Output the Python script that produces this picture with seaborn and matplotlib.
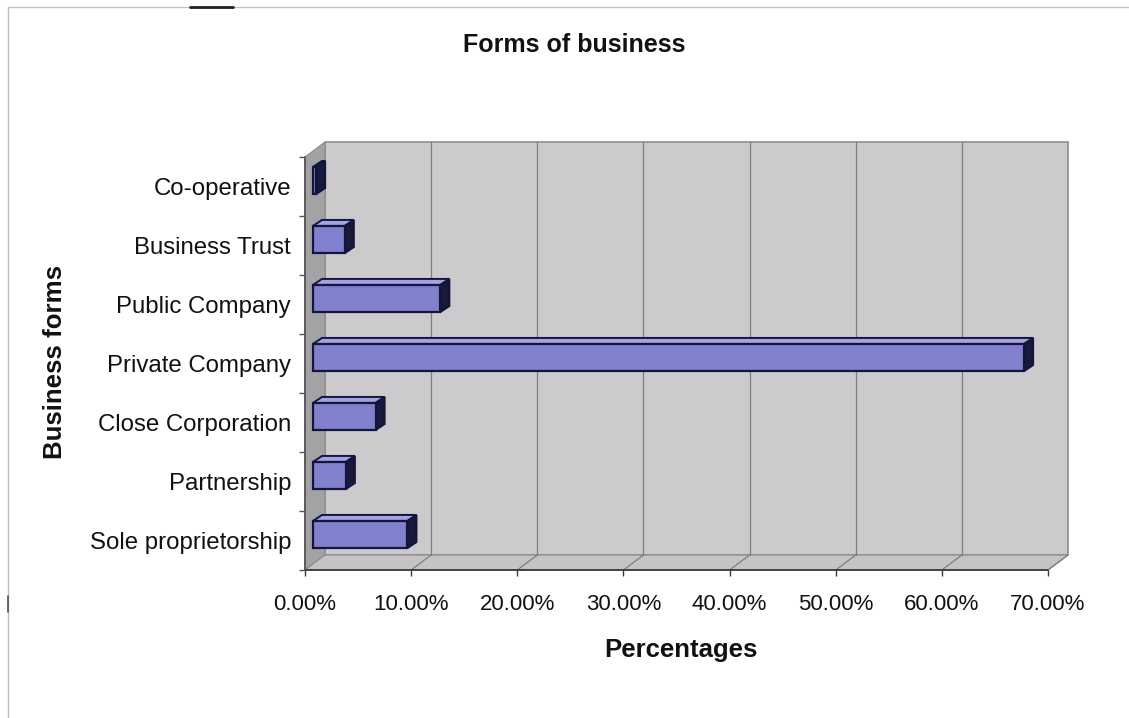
import matplotlib
matplotlib.use("Agg")
import matplotlib.pyplot as plt
from matplotlib.patches import Polygon, Rectangle
from matplotlib.lines import Line2D
from matplotlib.ticker import FixedLocator, FuncFormatter
import seaborn as sns

# Survey results: share of respondents per form of business (%)
categories = ["Co-operative", "Business Trust", "Public Company", "Private Company",
              "Close Corporation", "Partnership", "Sole proprietorship"]
values = [0.3, 3.0, 12.0, 67.0, 5.9, 3.1, 8.9]
x_ticks = [0, 10, 20, 30, 40, 50, 60, 70]

sns.set_theme(style="white")
plt.rcParams["font.family"] = ["Liberation Sans", "DejaVu Sans"]

W, H = 1129, 718
fig = plt.figure(figsize=(W / 100, H / 100), dpi=100)
fig.patch.set_facecolor("white")

# front plane of the 3-D box, in pixels
left_px, right_px, top_px, bottom_px = 305, 1048, 157, 570
ax = fig.add_axes([left_px / W, (H - bottom_px) / H,
                   (right_px - left_px) / W, (bottom_px - top_px) / H])
ax.set_facecolor("none")

xmax = 70
ymin, ymax = -0.5, len(categories) - 0.5
ux = xmax / (right_px - left_px)          # data units per pixel (x)
uy = (ymax - ymin) / (bottom_px - top_px)  # data units per pixel (y)

front_col = "#8080cc"
top_col = "#a2a2e4"
side_col = "#18183a"
edge_col = "#14143c"

sns.barplot(x=values, y=categories, orient="h", color=front_col,
            edgecolor=edge_col, linewidth=1.6, width=0.46, saturation=1,
            ax=ax, zorder=5)
ax.set_xlim(0, xmax)
ax.set_ylim(ymax, ymin)

# box depth and bar depth (pixels)
DX, DY = 20 * ux, 15 * uy
bx, by = 8 * ux, 6 * uy
dx, dy = 9 * ux, 6 * uy

wall_kw = dict(clip_on=False, zorder=0)
# back wall
ax.add_patch(Rectangle((DX, ymin - DY), xmax, ymax - ymin, facecolor="#cbcbcd",
                       edgecolor="#8e8e8e", linewidth=1.2, **wall_kw))
# left wall
ax.add_patch(Polygon([(0, ymin), (0, ymax), (DX, ymax - DY), (DX, ymin - DY)],
                     closed=True, facecolor="#a3a3a5", edgecolor="#8a8a8a",
                     linewidth=0.8, **wall_kw))
# floor
ax.add_patch(Polygon([(0, ymax), (xmax, ymax), (xmax + DX, ymax - DY), (DX, ymax - DY)],
                     closed=True, facecolor="#c4c4c6", edgecolor="#8a8a8a",
                     linewidth=0.8, **wall_kw))
# gridlines on back wall and floor
for v in x_ticks[1:-1]:
    ax.add_line(Line2D([v + DX, v + DX], [ymin - DY, ymax - DY], color="#7e7e7e",
                       linewidth=0.9, clip_on=False, zorder=1))
for v in x_ticks[1:]:
    ax.add_line(Line2D([v, v + DX], [ymax, ymax - DY], color="#7e7e7e",
                       linewidth=0.9, clip_on=False, zorder=1))

# turn flat bars into boxes
for p in list(ax.patches):
    if not isinstance(p, Rectangle) or p.get_zorder() != 5:
        continue
    p.set_x(p.get_x() + bx)
    p.set_y(p.get_y() - by)
    x0, x1 = p.get_x(), p.get_x() + p.get_width()
    yt, yb = p.get_y(), p.get_y() + p.get_height()
    ax.add_patch(Polygon([(x0, yt), (x1, yt), (x1 + dx, yt - dy), (x0 + dx, yt - dy)],
                         closed=True, facecolor=top_col, edgecolor=edge_col,
                         linewidth=1.4, clip_on=False, zorder=4))
    ax.add_patch(Polygon([(x1, yt), (x1, yb), (x1 + dx, yb - dy), (x1 + dx, yt - dy)],
                         closed=True, facecolor=side_col, edgecolor=edge_col,
                         linewidth=1.4, clip_on=False, zorder=4))

# axes lines
for s in ax.spines.values():
    s.set_visible(False)
ax.add_line(Line2D([0, xmax], [ymax, ymax], color="#3a3a3a", linewidth=1.3,
                   clip_on=False, zorder=6))
ax.add_line(Line2D([0, 0], [ymin, ymax], color="#555555", linewidth=1.3,
                   clip_on=False, zorder=6))

ax.xaxis.set_major_locator(FixedLocator(x_ticks))
ax.xaxis.set_major_formatter(FuncFormatter(lambda v, pos: f"{v:.2f}%"))
ax.tick_params(axis="x", which="major", direction="out", length=4, width=1,
               color="#3a3a3a", pad=13, labelsize=16, labelcolor="#111111",
               bottom=True)
ax.yaxis.set_minor_locator(FixedLocator([i - 0.5 for i in range(len(categories) + 1)]))
ax.tick_params(axis="y", which="major", length=0, pad=10, labelsize=17.3,
               labelcolor="#111111", left=True)
ax.tick_params(axis="y", which="minor", direction="out", length=4, width=1,
               color="#555555", left=True)
ax.set_xlabel("")
ax.set_ylabel("")

# titles
fig.text(574 / W, 1 - 52 / H, "Forms of business", ha="center", va="baseline",
         fontsize=18, fontweight="bold", color="#111111")
fig.text(681 / W, 1 - 657 / H, "Percentages", ha="center", va="baseline",
         fontsize=18.5, fontweight="bold", color="#111111")
fig.text(55 / W, 1 - 362 / H, "Business forms", ha="center", va="center",
         rotation=90, fontsize=18.6, fontweight="bold", color="#111111")

# chart-area border
fig.add_artist(Line2D([8 / W, 1], [1 - 7 / H, 1 - 7 / H], color="#c4c4c4",
                      linewidth=1.0))
fig.add_artist(Line2D([190 / W, 233 / W], [1 - 7 / H, 1 - 7 / H], color="#222222",
                      linewidth=2.0))
fig.add_artist(Line2D([8 / W, 8 / W], [0, 1 - 7 / H], color="#bdbdbd",
                      linewidth=1.0))
fig.add_artist(Line2D([8 / W, 8 / W], [1 - 612 / H, 1 - 596 / H], color="#555555",
                      linewidth=1.2))

fig.savefig("out.png", dpi=100, facecolor="white")
